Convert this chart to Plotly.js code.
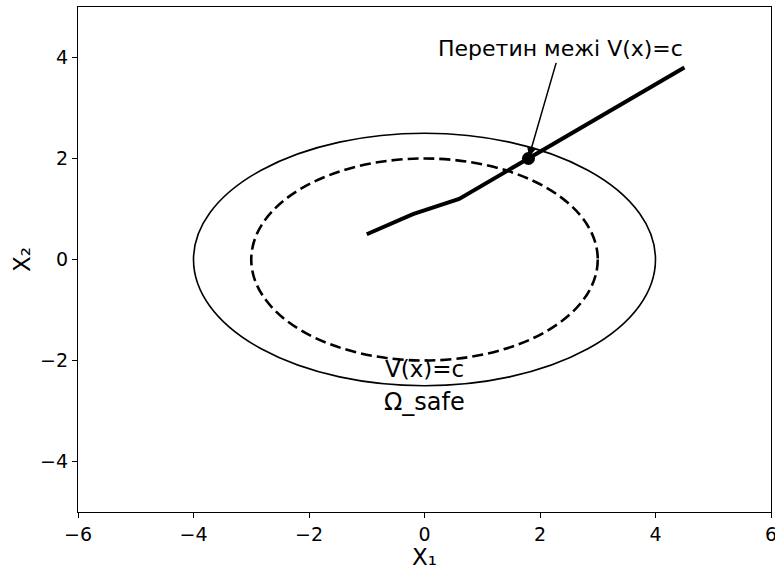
<!DOCTYPE html>
<html>
<head>
<meta charset="utf-8">
<script src="https://cdn.plot.ly/plotly-3.0.1.min.js"></script>
<style>html,body{margin:0;padding:0;background:#fff;}</style>
</head>
<body>
<div id="chart" style="width:775px;height:570px;"></div>
<script>
// Trajectory
const trajX = [-1.0, -0.2, 0.6, 1.8, 4.5];
const trajY = [0.5, 0.9, 1.2, 2.0, 3.8];
// Crossing point
const crossX = [1.8];
const crossY = [2.0];
// Ellipses: [semi-axis x, semi-axis y]
const outerEllipse = [4.0, 2.5];
const innerEllipse = [3.0, 2.0];
// Labels
const annText = 'Перетин межі V(x)=c';
const annTextPos = [2.35, 4.17];
const levelLabel = 'V(x)=c';
const levelPos = [0, -2.17];
const safeLabel = 'Ω_safe';
const safePos = [0, -2.83];
const xTicks = [-6, -4, -2, 0, 2, 4, 6];
const yTicks = [-4, -2, 0, 2, 4];
const xRange = [-6, 6];
const yRange = [-5, 5];

const font = 'DejaVu Sans, sans-serif';

const traces = [
  {x: trajX, y: trajY, mode: 'lines', line: {color: '#000', width: 4}, hoverinfo: 'skip'},
  {x: crossX, y: crossY, mode: 'markers', marker: {color: '#000', size: 13}, hoverinfo: 'skip'}
];

const layout = {
  width: 775, height: 570,
  margin: {l: 78, r: 4, t: 7, b: 58},
  showlegend: false,
  paper_bgcolor: '#fff', plot_bgcolor: '#fff',
  font: {family: font, color: '#000', size: 19},
  xaxis: {
    range: xRange, tickvals: xTicks, ticktext: xTicks.map(v => v < 0 ? '\u2212' + Math.abs(v) : String(v)),
    showgrid: false, zeroline: false, showline: true, linecolor: '#000', linewidth: 1.2, mirror: true,
    ticks: 'outside', ticklen: 5, tickwidth: 1, tickcolor: '#000', ticklabeloverflow: 'allow',
    tickfont: {family: font, size: 19},
    title: {text: 'X\u2081', font: {family: font, size: 23}, standoff: 4}
  },
  yaxis: {
    range: yRange, tickvals: yTicks, ticktext: yTicks.map(v => v < 0 ? '\u2212' + Math.abs(v) : String(v)),
    showgrid: false, zeroline: false, showline: true, linecolor: '#000', linewidth: 1.2, mirror: true,
    ticks: 'outside', ticklen: 5, tickwidth: 1, tickcolor: '#000', ticklabeloverflow: 'allow',
    tickfont: {family: font, size: 19},
    title: {text: 'X\u2082', font: {family: font, size: 23}, standoff: 3}
  },
  shapes: [
    {type: 'circle', xref: 'x', yref: 'y', x0: -outerEllipse[0], x1: outerEllipse[0], y0: -outerEllipse[1], y1: outerEllipse[1],
     line: {color: '#000', width: 1.6}, layer: 'below'},
    {type: 'circle', xref: 'x', yref: 'y', x0: -innerEllipse[0], x1: innerEllipse[0], y0: -innerEllipse[1], y1: innerEllipse[1],
     line: {color: '#000', width: 2.6, dash: '11px,5px'}, layer: 'below'}
  ],
  annotations: [
    {x: crossX[0], y: crossY[0], xref: 'x', yref: 'y', ax: annTextPos[0], ay: annTextPos[1], axref: 'x', ayref: 'y',
     text: annText, showarrow: true, arrowhead: 2, arrowsize: 1.2, arrowwidth: 1.5, arrowcolor: '#000',
     font: {family: font, size: 22, color: '#000'}, standoff: 2},
    {x: levelPos[0], y: levelPos[1], xref: 'x', yref: 'y', text: levelLabel, showarrow: false,
     font: {family: font, size: 23, color: '#000'}},
    {x: safePos[0], y: safePos[1], xref: 'x', yref: 'y', text: safeLabel, showarrow: false,
     font: {family: font, size: 24, color: '#000'}}
  ]
};

Plotly.newPlot('chart', traces, layout, {staticPlot: true, displayModeBar: false});
</script>
</body>
</html>
